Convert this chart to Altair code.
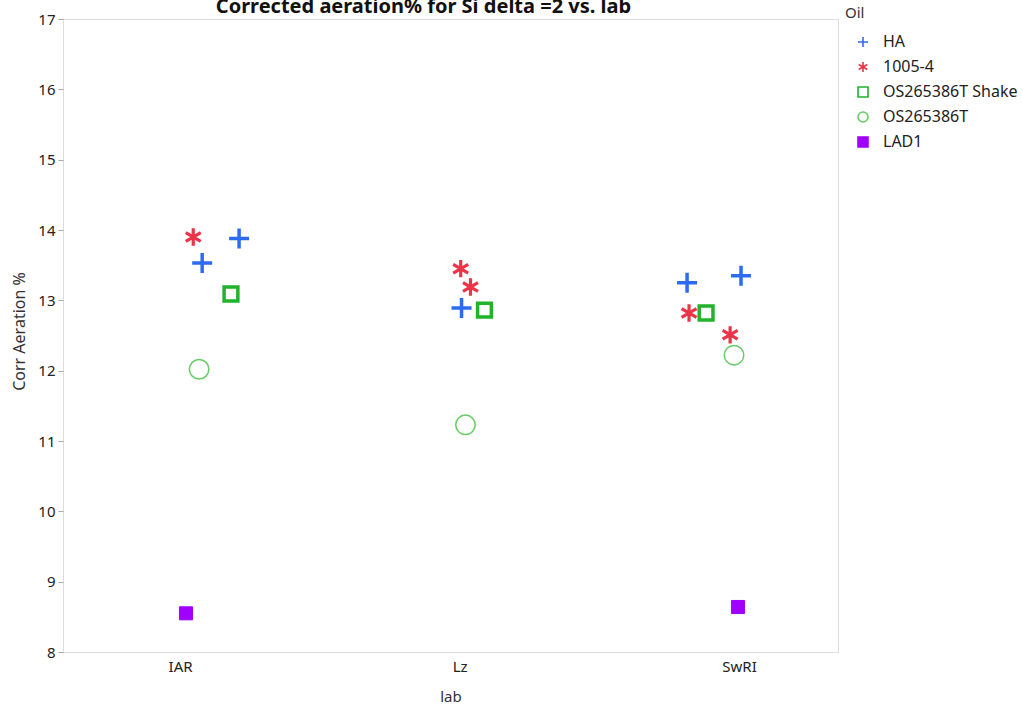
import altair as alt
import pandas as pd

# ---- data ----
labs = ["IAR", "Lz", "SwRI"]
oils = ["HA", "1005-4", "OS265386T Shake", "OS265386T", "LAD1"]

pt_lab = ["IAR", "IAR", "IAR", "IAR", "IAR", "IAR",
          "Lz", "Lz", "Lz", "Lz", "Lz",
          "SwRI", "SwRI", "SwRI", "SwRI", "SwRI", "SwRI", "SwRI"]
pt_oil = ["1005-4", "HA", "HA", "OS265386T Shake", "OS265386T", "LAD1",
          "1005-4", "1005-4", "HA", "OS265386T Shake", "OS265386T",
          "HA", "HA", "1005-4", "OS265386T Shake", "1005-4", "OS265386T", "LAD1"]
pt_val = [13.90, 13.88, 13.53, 13.09, 12.02, 8.55,
          13.45, 13.19, 12.89, 12.86, 11.23,
          13.25, 13.35, 12.82, 12.82, 12.51, 12.22, 8.64]
# horizontal jitter (in category units) as seen in the picture
pt_jit = [0.047, 0.211, 0.079, 0.182, 0.068, 0.021,
          0.004, 0.039, 0.007, 0.089, 0.021,
          -0.186, 0.007, -0.179, -0.118, -0.032, -0.018, -0.004]

colors = ["#2D6CF0", "#EE3348", "#22B22C", "#66CC66", "#A000FF"]
fills = ["transparent", "transparent", "transparent", "transparent", "#A000FF"]
PLUS = "M-1,0H1M0,-1V1"
AST = "M0,-1V1M-0.866,-0.5L0.866,0.5M-0.866,0.5L0.866,-0.5"
shapes = [PLUS, AST, "square", "circle", "square"]
sizes = [400, 300, 190, 380, 170]
widths = [3.5, 3.2, 3.5, 1.5, 1]

df = pd.DataFrame({"lab": pt_lab, "Oil": pt_oil, "value": pt_val, "jit": pt_jit})
df["xpos"] = df["lab"].map({l: i for i, l in enumerate(labs)}) + df["jit"]

FONT = "Noto Sans"
W, H = 775, 633
base = alt.Chart(df).encode(
    x=alt.X("xpos:Q", title="lab",
            scale=alt.Scale(domain=[-0.419, 2.354], nice=False, zero=False),
            axis=alt.Axis(values=[0, 1, 2], labelExpr="['IAR','Lz','SwRI'][datum.value]",
                          ticks=False, domain=False, grid=False,
                          labelFontSize=15, labelPadding=7, titleFontSize=15,
                          titleFontWeight="normal", titlePadding=15,
                          labelColor="#222", titleColor="#333", labelFont=FONT, titleFont=FONT)),
    y=alt.Y("value:Q", title="Corr Aeration %",
            scale=alt.Scale(domain=[8, 17], nice=False, zero=False),
            axis=alt.Axis(values=list(range(8, 18)), ticks=True, tickSize=5, tickColor="#AAAAAA",
                          domain=False, grid=False, labelFontSize=15, labelPadding=3,
                          titleFontSize=16, titleFontWeight="normal", titleX=-36, titleY=312,
                          labelColor="#222", titleColor="#333", labelFont=FONT, titleFont=FONT)),
    color=alt.Color("Oil:N", scale=alt.Scale(domain=oils, range=colors),
                    legend=alt.Legend(title="Oil", orient="none", legendX=782, legendY=-13,
                                      titleFontSize=15, titleFontWeight="normal", titleColor="#333",
                                      labelFontSize=16, labelColor="#222", titleFont=FONT, labelFont=FONT,
                                      symbolSize=100, symbolStrokeWidth=1.6, rowPadding=7,
                                      titlePadding=13, symbolOffset=10, labelOffset=12)),
    shape=alt.Shape("Oil:N", scale=alt.Scale(domain=oils, range=shapes)),
    fill=alt.Fill("Oil:N", scale=alt.Scale(domain=oils, range=fills)),
)

layers = []
for o, s, w in zip(oils, sizes, widths):
    layers.append(base.transform_filter(alt.datum.Oil == o)
                  .mark_point(size=s, strokeWidth=w, opacity=1, filled=False))

chart = alt.layer(*layers).properties(
    width=W, height=H,
    title=alt.TitleParams("Corrected aeration% for Si delta =2 vs. lab", fontSize=20,
                          fontWeight="bold", font=FONT, color="#111", offset=-11, dx=-27),
    autosize=alt.AutoSizeParams(type="none"),
    padding={"left": 63, "top": 19, "right": 185, "bottom": 57},
).configure_view(stroke="#AAAAAA", strokeWidth=1.5).configure(background="white")

chart.save("out.html", embed_options={"renderer": "svg", "actions": False})
